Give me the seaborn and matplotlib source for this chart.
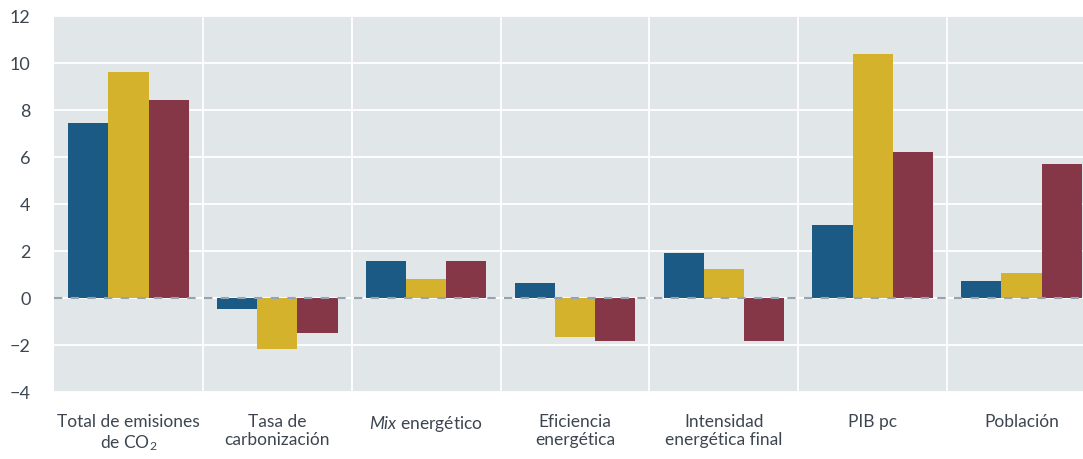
import matplotlib
matplotlib.use("Agg")
import matplotlib.pyplot as plt
import seaborn as sns
import pandas as pd
import numpy as np
from matplotlib.ticker import FixedLocator

categories = ["Total de emisiones\nde CO$_2$", "Tasa de\ncarbonización", "$\\mathit{Mix}$ energético",
              "Eficiencia\nenergética", "Intensidad\nenergética final", "PIB pc", "Población"]
series_names = ["Serie A", "Serie B", "Serie C"]
serie_a = [7.42, -0.47, 1.57, 0.64, 1.91, 3.09, 0.72]
serie_b = [9.62, -2.16, 0.81, -1.65, 1.23, 10.38, 1.06]
serie_c = [8.43, -1.48, 1.57, -1.82, -1.82, 6.19, 5.68]
yticks = [-4, -2, 0, 2, 4, 6, 8, 10, 12]

colors = ["#1a5a85", "#d4b22c", "#853748"]

rows = []
for name, vals in zip(series_names, [serie_a, serie_b, serie_c]):
    for c, v in zip(categories, vals):
        rows.append({"cat": c, "serie": name, "valor": v})
df = pd.DataFrame(rows)

sns.set_theme(style="white")
font = "Lato"
plt.rcParams["font.family"] = [font, "DejaVu Sans"]
plt.rcParams["mathtext.fontset"] = "custom"
plt.rcParams["mathtext.rm"] = font
plt.rcParams["mathtext.it"] = font + ":italic"
plt.rcParams["mathtext.bf"] = font + ":bold"

fig = plt.figure(figsize=(10.83, 4.6), dpi=100)
ax = fig.add_axes([54 / 1083, (460 - 393) / 460, 1 - 54 / 1083, (393 - 16.5) / 460])
ax.set_facecolor("#e1e6e9")

sns.barplot(data=df, x="cat", y="valor", hue="serie", order=categories, hue_order=series_names,
            palette=colors, width=0.81, saturation=1, ax=ax, legend=False, zorder=2,
            linewidth=0, edgecolor="none")

ax.set_ylim(-4, 12)
ax.set_xlim(-0.5, 6.5 - 13 / 149)
ax.yaxis.set_major_locator(FixedLocator(yticks))
ax.set_yticklabels(["\u2212" + str(-t) if t < 0 else str(t) for t in yticks])
ax.xaxis.set_minor_locator(FixedLocator([i + 0.5 for i in range(6)]))
ax.grid(axis="y", which="major", color="white", linewidth=1.3, zorder=0)
ax.grid(axis="x", which="minor", color="white", linewidth=1.3, zorder=0)
ax.set_axisbelow(True)
ax.axhline(0, color="#97a3b0", linestyle=(0, (4, 4)), linewidth=1.5, zorder=3)

for s in ax.spines.values():
    s.set_visible(False)
ax.set_xlabel("")
ax.set_ylabel("")
ax.tick_params(axis="both", which="both", length=0)
ax.tick_params(axis="y", pad=17, labelsize=13, labelcolor="#3d4650")
ax.tick_params(axis="x", pad=15, labelsize=12.5, labelcolor="#3d4650")

fig.savefig("out.png", dpi=100)
